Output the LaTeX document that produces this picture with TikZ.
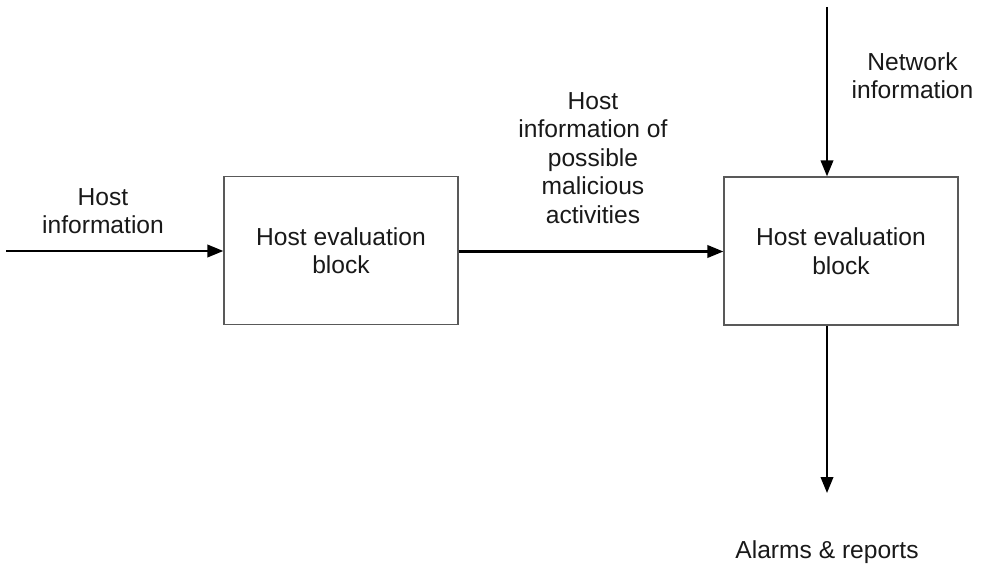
\documentclass[tikz,border=0pt]{standalone}
\usepackage{fontspec}
\setmainfont{Liberation Sans}
\usetikzlibrary{arrows.meta}
\begin{document}
\begin{tikzpicture}[x=1pt,y=-1pt,
  txt/.style={font=\fontsize{24.6}{28.5}\selectfont, text=black!90},
  box/.style={txt, draw=black!65, line width=1.3pt, minimum width=234pt, minimum height=148pt, inner sep=0pt, align=center},
  lbl/.style={txt, inner sep=0pt, align=center, anchor=north},
  arr/.style={line width=2.2pt, -{Triangle[length=16pt,width=12.5pt]}}]
\useasboundingbox (0,0) rectangle (983,564);
\node[box] (b1) at (341,250.5) {Host evaluation\\block};
\node[box] (b2) at (841,251) {Host evaluation\\block};
\coordinate (lin) at (6,251);
\coordinate (ntop) at (827,7);
\coordinate (nbot) at (827,493);
\draw[arr] (lin) -- (lin -| b1.west);
\draw[arr] (b1.east |- 0,251.5) -- (b2.west |- 0,251.5);
\draw[arr] (ntop) -- (ntop |- b2.north);
\draw[arr] (nbot |- b2.south) -- (nbot);
\node[lbl] (l1) at (103,188) {Host\\information};
\node[lbl] (l2) at (593,92) {Host\\information of\\possible\\malicious\\activities};
\node[lbl] (l3) at (912.5,52) {Network\\information};
\node[lbl] (l4) at (827,540) {Alarms \& reports};
\end{tikzpicture}
\end{document}
